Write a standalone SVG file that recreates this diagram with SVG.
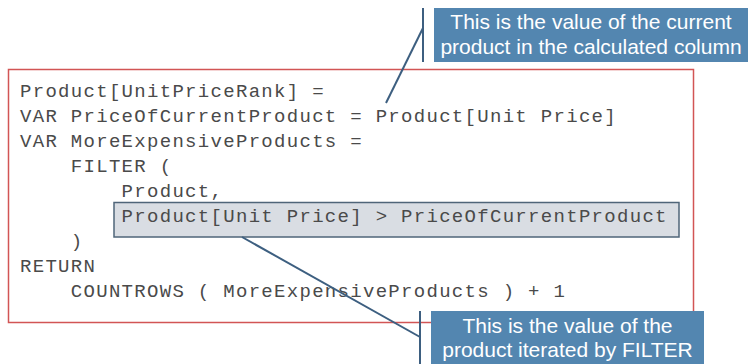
<svg xmlns="http://www.w3.org/2000/svg" width="751" height="364" viewBox="0 0 751 364">
<style>
.code{font-family:"Liberation Mono","Courier New",monospace;font-size:19px;letter-spacing:1.3px;fill:#4a4a4a;white-space:pre}
.note{font-family:"Liberation Sans",Arial,sans-serif;font-size:21px;fill:#ffffff;text-anchor:middle}
.box{fill:#5386b0}
.lead{stroke:#3d5f80;stroke-width:2;fill:none}
</style>
<rect width="751" height="364" fill="#ffffff"/>
<g id="code">
<rect x="8.5" y="69.5" width="685" height="253" fill="#ffffff" stroke="#d25555" stroke-width="1.5"/>
<rect id="highlight" x="114" y="202.5" width="565" height="34.5" fill="#d9dde3" stroke="#4f6579" stroke-width="1.5"/>
<text class="code" x="20" y="97" xml:space="preserve">Product[UnitPriceRank] =</text>
<text class="code" x="20" y="122" xml:space="preserve">VAR PriceOfCurrentProduct = Product[Unit Price]</text>
<text class="code" x="20" y="147" xml:space="preserve">VAR MoreExpensiveProducts =</text>
<text class="code" x="20" y="172" xml:space="preserve">    FILTER (</text>
<text class="code" x="20" y="197" xml:space="preserve">        Product,</text>
<text class="code" x="20" y="222" xml:space="preserve">        Product[Unit Price] &gt; PriceOfCurrentProduct</text>
<text class="code" x="20" y="247" xml:space="preserve">    )</text>
<text class="code" x="20" y="272" xml:space="preserve">RETURN</text>
<text class="code" x="20" y="297" xml:space="preserve">    COUNTROWS ( MoreExpensiveProducts ) + 1</text>
</g>
<g id="connectors">
<line class="lead" x1="423" y1="8" x2="423" y2="62"/>
<line class="lead" x1="423" y1="28" x2="386" y2="103"/>
<line class="lead" x1="420" y1="311" x2="420" y2="364"/>
<line class="lead" x1="242" y1="237" x2="420" y2="337"/>
</g>
<g id="note-current">
<rect class="box" x="434" y="8" width="314" height="54"/>
<text class="note" x="591" y="29">This is the value of the current</text>
<text class="note" x="591" y="54">product in the calculated column</text>
</g>
<g id="note-filter">
<rect class="box" x="431" y="311" width="273" height="53"/>
<text class="note" x="567.5" y="333">This is the value of the</text>
<text class="note" x="567.5" y="357">product iterated by FILTER</text>
</g>
</svg>
